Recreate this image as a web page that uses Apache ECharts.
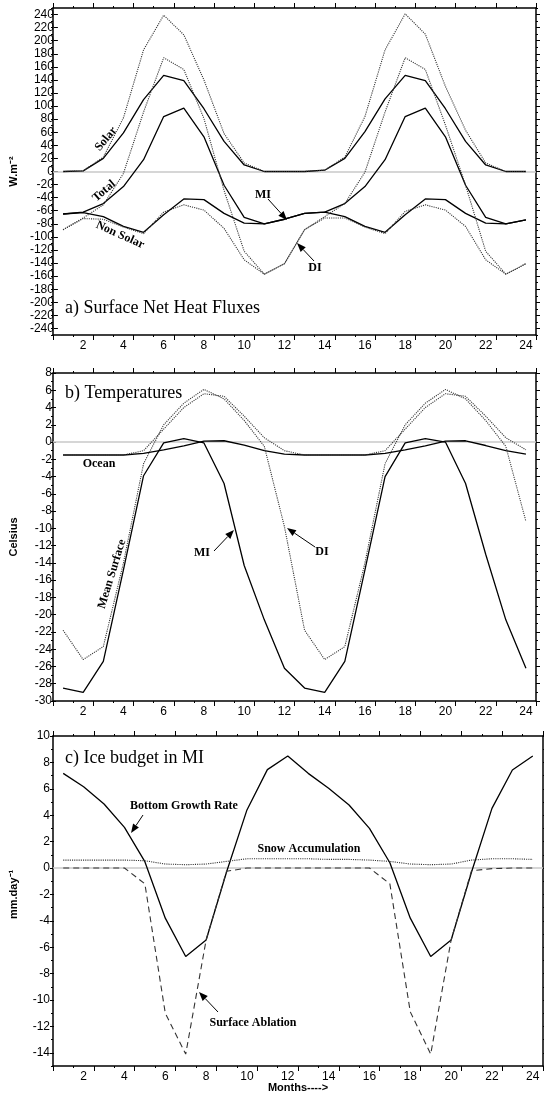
<!DOCTYPE html>
<html>
<head>
<meta charset="utf-8">
<script src="https://cdn.jsdelivr.net/npm/echarts@6/dist/echarts.min.js"></script>
<style>
html,body{margin:0;padding:0;background:#fff;}
#c{width:544px;height:1097px;}
</style>
</head>
<body>
<div id="c"></div>
<script>
// ---------- DATA ----------
var months = ['1','2','3','4','5','6','7','8','9','10','11','12','13','14','15','16','17','18','19','20','21','22','23','24'];

// a) Surface net heat fluxes (W.m-2)
var miSolar    = [0, 1, 20, 59, 110, 147, 139, 96, 46, 10, 0, 0, 0, 2, 20, 61, 111, 147, 139, 96, 46, 10, 0, 0];
var miTotal    = [-65, -62, -49, -23, 18, 84, 97, 53, -21, -70, -80, -73, -64, -62, -49, -23, 18, 84, 97, 53, -21, -70, -80, -74];
var miNonSolar = [-65, -63, -69, -84, -93, -66, -42, -43, -64, -79, -80, -73, -64, -62, -69, -84, -93, -66, -42, -43, -64, -79, -80, -74];
var diSolar    = [0, 1, 22, 82, 186, 239, 209, 140, 58, 13, 0, 0, 0, 2, 22, 84, 186, 241, 210, 130, 63, 13, 0, 0];
var diTotal    = [-89, -71, -51, -3, 91, 174, 156, 81, -29, -122, -157, -141, -89, -69, -49, -1, 91, 174, 156, 71, -21, -122, -157, -141];
var diNonSolar = [-89, -72, -73, -85, -95, -62, -51, -59, -87, -135, -157, -141, -89, -71, -71, -85, -95, -61, -51, -59, -84, -135, -157, -141];

// b) Temperatures (Celsius)
var miOcean    = [-1.5, -1.5, -1.5, -1.5, -1.3, -0.9, -0.45, 0.1, 0.15, -0.35, -1.0, -1.4, -1.5, -1.5, -1.5, -1.5, -1.3, -0.9, -0.45, 0.1, 0.15, -0.4, -1.0, -1.4];
var miSurface  = [-28.5, -29.0, -25.4, -14.8, -3.9, -0.1, 0.4, -0.1, -4.8, -14.3, -20.6, -26.2, -28.5, -29.0, -25.4, -14.8, -4.0, -0.1, 0.4, 0.0, -4.8, -13.0, -20.6, -26.2];
var diOcean    = [-1.5, -1.5, -1.5, -1.5, -1.0, 1.5, 4.0, 5.6, 5.3, 3.0, 0.5, -1.0, -1.5, -1.5, -1.5, -1.5, -1.0, 1.5, 4.0, 5.6, 5.3, 3.0, 0.5, -0.9];
var diSurface  = [-21.8, -25.2, -23.7, -14, -2.5, 2.0, 4.5, 6.1, 5.0, 2.5, -0.5, -9.8, -21.8, -25.2, -23.7, -14, -2.5, 2.0, 4.5, 6.1, 5.0, 2.5, -0.5, -9.2];

// c) Ice budget in MI (mm.day-1)
var bottomGrowth = [7.17, 6.16, 4.85, 3.08, 0.48, -3.8, -6.7, -5.45, -0.3, 4.4, 7.45, 8.48, 7.17, 6.04, 4.77, 3.0, 0.4, -3.8, -6.7, -5.45, -0.3, 4.52, 7.42, 8.48];
var snowAccum    = [0.6, 0.6, 0.6, 0.6, 0.55, 0.3, 0.25, 0.3, 0.5, 0.7, 0.7, 0.7, 0.7, 0.65, 0.65, 0.6, 0.5, 0.3, 0.25, 0.3, 0.6, 0.7, 0.7, 0.65];
var surfAblation = [0, 0, 0, 0, -1.2, -11.0, -14.1, -5.45, -0.25, 0, 0, 0, 0, 0, 0, 0, -1.2, -10.9, -14.1, -5.45, -0.2, -0.05, 0, 0];

// axis scales: full range, minor tick step, labelled range and label step
var yA = {min: -250, max: 250, step: 10, labelStep: 20, labelMin: -240, labelMax: 240};
var yB = {min: -30, max: 8, step: 1, labelStep: 2, labelMin: -30, labelMax: 8};
var yC = {min: -15, max: 10, step: 1, labelStep: 2, labelMin: -14, labelMax: 10};

// ---------- CHART ----------
var AX = '#000';
var tickFont = {fontFamily: 'Liberation Sans, Arial, sans-serif', fontSize: 12, color: '#000'};
var panels = [
  {grid: {left: 53, top: 8, width: 483, height: 327}, yc: yA, name: 'W.m\u207B\u00B2', gap: 37},
  {grid: {left: 53, top: 373, width: 483, height: 328}, yc: yB, name: 'Celsius', gap: 37},
  {grid: {left: 53, top: 736, width: 490, height: 330}, yc: yC, name: 'mm.day\u207B\u00B9', gap: 35}
];
var grids = [], xAxes = [], yAxes = [];
var mainX = [], mainY = [];

panels.forEach(function (p, g) {
  var yc = p.yc, G = p.grid;
  // --- main grid: frame + minor ticks, holds the data ---
  var gi = grids.length; grids.push(G);
  mainX.push(xAxes.length);
  xAxes.push({type: 'category', gridIndex: gi, data: months, position: 'bottom', boundaryGap: true,
    axisLine: {show: true, onZero: false, lineStyle: {color: AX, width: 1.5}},
    axisTick: {show: true, interval: 0, length: 2, lineStyle: {color: AX}},
    axisLabel: {show: false}, splitLine: {show: false}});
  xAxes.push({type: 'category', gridIndex: gi, data: months, position: 'top', boundaryGap: true,
    axisLine: {show: true, onZero: false, lineStyle: {color: AX, width: 1.5}},
    axisTick: {show: true, interval: 0, length: 2, lineStyle: {color: AX}},
    axisLabel: {show: false}, splitLine: {show: false}});
  mainY.push(yAxes.length);
  yAxes.push({type: 'value', gridIndex: gi, position: 'left', min: yc.min, max: yc.max, interval: yc.step,
    axisLine: {show: true, onZero: false, lineStyle: {color: AX, width: 1.5}},
    axisTick: {show: true, length: 2, lineStyle: {color: AX}},
    axisLabel: {show: false}, splitLine: {show: false}});
  yAxes.push({type: 'value', gridIndex: gi, position: 'right', min: yc.min, max: yc.max, interval: yc.step,
    axisLine: {show: true, onZero: false, lineStyle: {color: AX, width: 1.5}},
    axisTick: {show: true, length: 2, lineStyle: {color: AX}},
    axisLabel: {show: false}, splitLine: {show: false}});

  // --- overlay grid for x: major ticks + month labels ---
  var gx = grids.length; grids.push(G);
  xAxes.push({type: 'category', gridIndex: gx, data: months, position: 'bottom', boundaryGap: true,
    axisLine: {show: false, onZero: false},
    axisTick: {show: true, interval: function (i) { return i % 2 === 0; }, length: 5, lineStyle: {color: AX}},
    axisLabel: Object.assign({interval: function (i) { return i % 2 === 1; }, margin: 5}, tickFont),
    splitLine: {show: false}});
  xAxes.push({type: 'category', gridIndex: gx, data: months, position: 'top', boundaryGap: true,
    axisLine: {show: false, onZero: false},
    axisTick: {show: true, interval: function (i) { return i % 2 === 0; }, length: 5, lineStyle: {color: AX}},
    axisLabel: {show: false}, splitLine: {show: false}});
  yAxes.push({type: 'value', gridIndex: gx, show: false, min: yc.min, max: yc.max});

  // --- overlay grid for y: major ticks + value labels over labelled range ---
  var ppu = G.height / (yc.max - yc.min);
  var Gy = {left: G.left, width: G.width, top: G.top + (yc.max - yc.labelMax) * ppu,
            height: (yc.labelMax - yc.labelMin) * ppu};
  var gy = grids.length; grids.push(Gy);
  xAxes.push({type: 'category', gridIndex: gy, data: months, show: false});
  yAxes.push({type: 'value', gridIndex: gy, position: 'left', min: yc.labelMin, max: yc.labelMax, interval: yc.labelStep,
    name: p.name, nameLocation: 'middle', nameRotate: 90, nameGap: p.gap,
    nameTextStyle: {fontFamily: 'Liberation Sans, Arial, sans-serif', fontWeight: 'bold', fontSize: 11, color: '#000'},
    axisLine: {show: false, onZero: false},
    axisTick: {show: true, length: 4, lineStyle: {color: AX}},
    axisLabel: Object.assign({margin: 4}, tickFont), splitLine: {show: false}});
  yAxes.push({type: 'value', gridIndex: gy, position: 'right', min: yc.labelMin, max: yc.labelMax, interval: yc.labelStep,
    axisLine: {show: false, onZero: false},
    axisTick: {show: true, length: 4, lineStyle: {color: AX}},
    axisLabel: {show: false}, splitLine: {show: false}});
});

function line(g, data, type, zero, dash) {
  var s = {type: 'line', xAxisIndex: mainX[g], yAxisIndex: mainY[g], data: data, symbol: 'none', showSymbol: false,
    smooth: false, animation: false, silent: true, z: 5,
    lineStyle: {color: type === 'solid' ? '#000' : '#333', width: type === 'solid' ? 1.3 : 1.1, type: dash || type}};
  if (zero) {
    s.markLine = {silent: true, symbol: ['none', 'none'], label: {show: false}, animation: false, z: 1,
      lineStyle: {color: '#c8c8c8', type: 'solid', width: 1.5}, data: [{yAxis: 0}]};
  }
  return s;
}
var series = [
  line(0, miSolar, 'solid', true), line(0, miTotal, 'solid'), line(0, miNonSolar, 'solid'),
  line(0, diSolar, 'dotted'), line(0, diTotal, 'dotted'), line(0, diNonSolar, 'dotted'),
  line(1, miOcean, 'solid', true), line(1, miSurface, 'solid'),
  line(1, diOcean, 'dotted'), line(1, diSurface, 'dotted'),
  line(2, bottomGrowth, 'solid', true), line(2, snowAccum, 'dotted'), line(2, surfAblation, 'dashed', false, [6, 4])
];

// ---------- annotations ----------
var serifB = 'bold 12px "Liberation Serif", "Times New Roman", serif';
var serifT = '18px "Liberation Serif", "Times New Roman", serif';
function txt(t, x, y, font, rotDeg, align) {
  return {type: 'text', x: x, y: y, rotation: (rotDeg || 0) * Math.PI / 180, z: 50,
    style: {text: t, font: font, fill: '#000', textAlign: align || 'center', textVerticalAlign: 'middle'}};
}
function arrow(x1, y1, x2, y2) {
  var ang = Math.atan2(y2 - y1, x2 - x1), L = 9, W = 3.5;
  var bx = x2 - L * Math.cos(ang), by = y2 - L * Math.sin(ang);
  var px = -Math.sin(ang) * W, py = Math.cos(ang) * W;
  return [
    {type: 'line', z: 50, shape: {x1: x1, y1: y1, x2: bx, y2: by}, style: {stroke: '#000', lineWidth: 1}},
    {type: 'polygon', z: 50, shape: {points: [[x2, y2], [bx + px, by + py], [bx - px, by - py]]}, style: {fill: '#000'}}
  ];
}
var graphics = [
  txt('a) Surface Net Heat Fluxes', 65, 308, serifT, 0, 'left'),
  txt('Solar', 106, 139, serifB, 51),
  txt('Total', 104, 191, serifB, 41),
  txt('Non Solar', 120, 235, serifB, -24),
  txt('MI', 263, 195, serifB),
  txt('DI', 315, 268, serifB),
  txt('b) Temperatures', 65, 393, serifT, 0, 'left'),
  txt('Ocean', 99, 464, serifB),
  txt('Mean Surface', 112, 574, serifB, 73),
  txt('MI', 202, 553, serifB),
  txt('DI', 322, 552, serifB),
  txt('c) Ice budget in MI', 65, 758, serifT, 0, 'left'),
  txt('Bottom Growth Rate', 184, 806, serifB),
  txt('Snow Accumulation', 309, 849, serifB),
  txt('Surface Ablation', 253, 1023, serifB),
  txt('Months---->', 298, 1088, 'bold 11px "Liberation Sans", Arial, sans-serif')
].concat(arrow(268, 199, 287, 220), arrow(314, 261, 297, 243), arrow(214, 551, 234, 530),
         arrow(315, 547, 287, 528), arrow(143, 815, 131, 833), arrow(218, 1012, 199, 992));

var chart = echarts.init(document.getElementById('c'), null, {renderer: 'canvas'});
chart.setOption({
  animation: false,
  backgroundColor: '#fff',
  grid: grids,
  xAxis: xAxes,
  yAxis: yAxes,
  series: series,
  graphic: graphics
});
</script>
</body>
</html>
